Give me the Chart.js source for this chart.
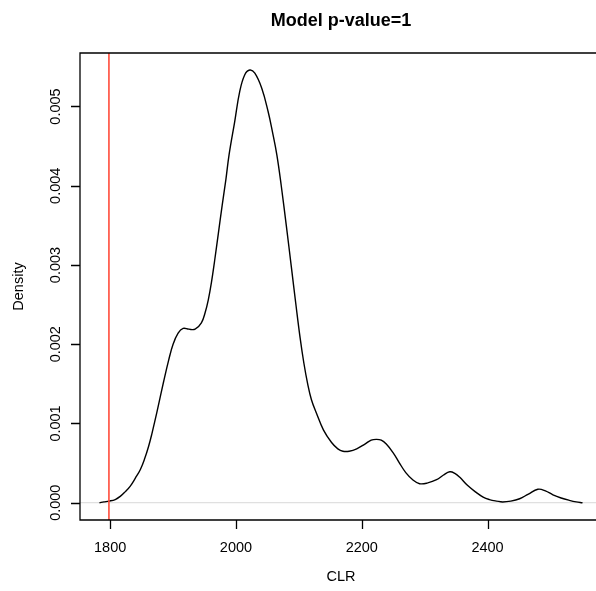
<!DOCTYPE html>
<html>
<head>
<meta charset="utf-8">
<script src="https://cdn.jsdelivr.net/npm/chart.js@4.4.1/dist/chart.umd.min.js"></script>
<style>
  html, body { margin: 0; padding: 0; overflow: hidden; background: #fff; }
  #wrap { width: 604px; height: 591px; position: relative; }
</style>
</head>
<body>
<div id="wrap"><canvas id="densityChart"></canvas></div>
<script>
// density estimate
const clrX = [1783, 1790, 1798, 1808, 1816, 1824, 1832, 1840, 1848, 1855, 1861, 1866, 1871, 1877,
  1885, 1893, 1900, 1908, 1916, 1925, 1935, 1945, 1951, 1956, 1961, 1966, 1972, 1978, 1984, 1989,
  1998, 2006, 2014, 2022, 2030, 2041, 2051, 2058, 2065, 2072, 2080, 2088, 2095, 2102, 2108, 2114,
  2120, 2128, 2139, 2152, 2162, 2170, 2180, 2192, 2205, 2215, 2223, 2231, 2239, 2250, 2260, 2270,
  2281, 2292, 2305, 2319, 2330, 2340, 2348, 2356, 2368, 2382, 2393, 2403, 2415, 2424, 2437, 2451,
  2465, 2480, 2492, 2504, 2517, 2530, 2541, 2551];
const density = [0.00000, 0.00001, 0.00002, 0.00004, 0.00008, 0.00014, 0.00021, 0.00031, 0.00042, 0.00056,
  0.00071, 0.00086, 0.00103, 0.00124, 0.00153, 0.00180, 0.00200, 0.00214, 0.00220, 0.00219, 0.00219,
  0.00227, 0.00240, 0.00256, 0.00278, 0.00305, 0.00340, 0.00375, 0.00408, 0.00439, 0.00481, 0.00519,
  0.00540, 0.00546, 0.00542, 0.00523, 0.00494, 0.00468, 0.00439, 0.00400, 0.00350, 0.00298, 0.00252,
  0.00208, 0.00176, 0.00150, 0.00130, 0.00113, 0.00092, 0.00076, 0.00068, 0.00065, 0.00065, 0.00068,
  0.00074, 0.00079, 0.00080, 0.00079, 0.00074, 0.00063, 0.00050, 0.00038, 0.00029, 0.00024, 0.00025,
  0.00029, 0.00035, 0.00039, 0.00037, 0.00032, 0.00022, 0.00013, 0.00007, 0.00004, 0.00002, 0.00001,
  0.00002, 0.00005, 0.00011, 0.00017, 0.00015, 0.00010, 0.00006, 0.00003, 0.00001, 0.00000];
const observedClr = 1798;
const xTicks = [1800, 2000, 2200, 2400];
const yTicks = [0, 0.001, 0.002, 0.003, 0.004, 0.005];
const xRange = [1752, 2582];
const yRange = [-0.000218, 0.005675];

const titleText = "Model p-value=1";
const xTitle = "CLR";
const yTitle = "Density";

const FONT = '"Liberation Sans", Arial, Helvetica, sans-serif';

// R-style axes: open box, outward ticks, rotated y labels
const rAxes = {
  id: "rAxes",
  afterDraw(chart) {
    const { ctx, chartArea: a, scales } = chart;
    const xs = scales.x, ys = scales.y;
    ctx.save();
    ctx.strokeStyle = "#000";
    ctx.lineWidth = 1.3;
    ctx.beginPath();
    ctx.moveTo(a.right + 2, a.top);
    ctx.lineTo(a.left, a.top);
    ctx.lineTo(a.left, a.bottom);
    ctx.lineTo(a.right + 2, a.bottom);
    xTicks.forEach(v => {
      const px = Math.round(xs.getPixelForValue(v)) + 0.5;
      ctx.moveTo(px, a.bottom);
      ctx.lineTo(px, a.bottom + 9);
    });
    yTicks.forEach(v => {
      const py = Math.round(ys.getPixelForValue(v)) + 0.5;
      ctx.moveTo(a.left, py);
      ctx.lineTo(a.left - 9, py);
    });
    ctx.stroke();

    ctx.fillStyle = "#000";
    ctx.font = "14.5px " + FONT;
    ctx.textAlign = "center";
    ctx.textBaseline = "middle";
    xTicks.forEach(v => ctx.fillText(String(v), xs.getPixelForValue(v), 548));
    yTicks.forEach(v => {
      ctx.save();
      ctx.translate(56, ys.getPixelForValue(v));
      ctx.rotate(-Math.PI / 2);
      ctx.fillText(v.toFixed(3), 0, 0);
      ctx.restore();
    });

    const cx = (a.left + a.right) / 2;
    ctx.fillText(xTitle, cx, 577);
    ctx.save();
    ctx.translate(19, (a.top + a.bottom) / 2);
    ctx.rotate(-Math.PI / 2);
    ctx.fillText(yTitle, 0, 0);
    ctx.restore();

    ctx.font = "bold 18px " + FONT;
    ctx.fillText(titleText, cx, 21);
    ctx.restore();
  }
};

new Chart(document.getElementById("densityChart"), {
  type: "scatter",
  data: {
    datasets: [
      {
        data: [{ x: observedClr, y: yRange[0] }, { x: observedClr, y: yRange[1] }],
        showLine: true, borderColor: "#ff4b3a", borderWidth: 1.6, pointRadius: 0, order: 1
      },
      {
        data: clrX.map((x, i) => ({ x: x, y: density[i] })),
        showLine: true, borderColor: "#000", borderWidth: 1.4, pointRadius: 0,
        tension: 0.4, order: 2
      },
      {
        data: [{ x: xRange[0], y: 0 }, { x: xRange[1], y: 0 }],
        showLine: true, borderColor: "#d8d8d8", borderWidth: 1, pointRadius: 0, order: 3
      }
    ]
  },
  options: {
    responsive: true,
    maintainAspectRatio: false,
    animation: false,
    layout: { padding: { top: 53, right: 2, left: 0, bottom: 0 } },
    plugins: { legend: { display: false }, tooltip: { enabled: false }, title: { display: false } },
    scales: {
      x: {
        type: "linear", min: xRange[0], max: xRange[1],
        afterFit: s => { s.height = 71; },
        grid: { display: false }, border: { display: false },
        ticks: { display: false }
      },
      y: {
        type: "linear", min: yRange[0], max: yRange[1],
        afterFit: s => { s.width = 80; },
        grid: { display: false }, border: { display: false },
        ticks: { display: false }
      }
    }
  },
  plugins: [rAxes]
});
</script>
</body>
</html>
